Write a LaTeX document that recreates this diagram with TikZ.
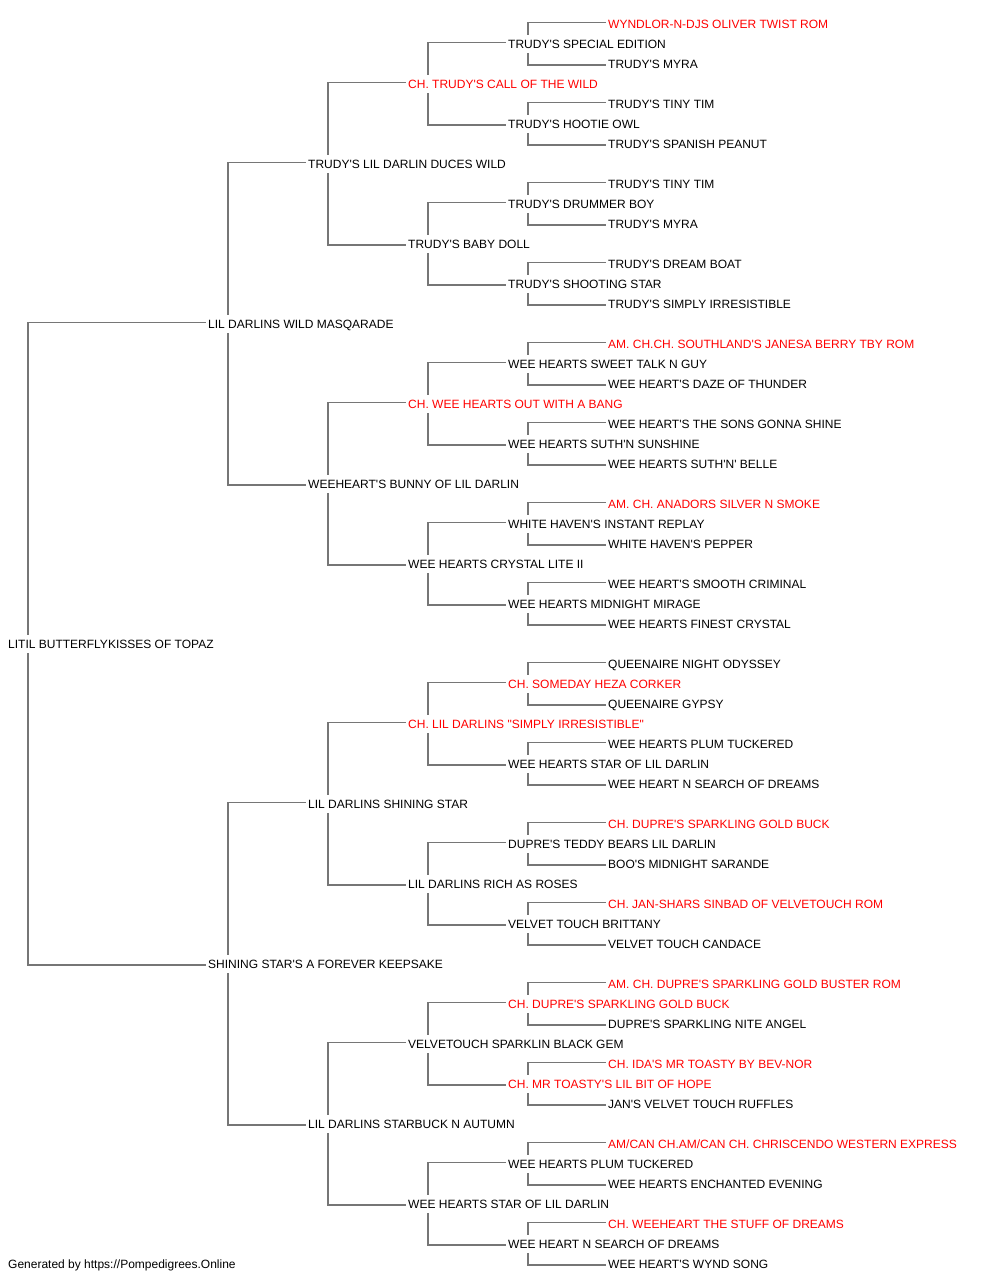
\documentclass[tikz,border=0pt]{standalone}
\usepackage{fontspec}
\newfontfamily\dogfont{Liberation Sans}
\usetikzlibrary{backgrounds}
\definecolor{linegray}{RGB}{118,118,118}
\definecolor{namered}{RGB}{255,0,0}
\tikzset{
  dog/.style={anchor=west, fill=white, inner xsep=2pt, inner ysep=2pt,
    text height=11pt, text depth=2.5pt, font=\dogfont\fontsize{12}{14}\selectfont, text=black},
  champ/.style={dog, text=namered},
  conn/.style={draw=linegray, line width=1.5pt},
}
\newcommand{\famlink}[3]{\draw[conn] ([yshift=1.5pt]#2.west) -| ([xshift=22pt]#1.west) |- ([yshift=-1pt]#3.west);}
\begin{document}
\begin{tikzpicture}[x=1pt,y=-1pt]
\useasboundingbox (0,0) rectangle (1000,1280);
% generation 0
\node[dog] (r) at (6,643.8) {LITIL BUTTERFLYKISSES OF TOPAZ};
% generation 1
\node[dog] (a0) at (206,323.8) {LIL DARLINS WILD MASQARADE};
\node[dog] (a1) at (206,963.8) {SHINING STAR'S A FOREVER KEEPSAKE};
% generation 2
\node[dog] (b0) at (306,163.8) {TRUDY'S LIL DARLIN DUCES WILD};
\node[dog] (b1) at (306,483.8) {WEEHEART'S BUNNY OF LIL DARLIN};
\node[dog] (b2) at (306,803.8) {LIL DARLINS SHINING STAR};
\node[dog] (b3) at (306,1123.8) {LIL DARLINS STARBUCK N AUTUMN};
% generation 3
\node[champ] (c0) at (406,83.8) {CH. TRUDY'S CALL OF THE WILD};
\node[dog] (c1) at (406,243.8) {TRUDY'S BABY DOLL};
\node[champ] (c2) at (406,403.8) {CH. WEE HEARTS OUT WITH A BANG};
\node[dog] (c3) at (406,563.8) {WEE HEARTS CRYSTAL LITE II};
\node[champ] (c4) at (406,723.8) {CH. LIL DARLINS "SIMPLY IRRESISTIBLE"};
\node[dog] (c5) at (406,883.8) {LIL DARLINS RICH AS ROSES};
\node[dog] (c6) at (406,1043.8) {VELVETOUCH SPARKLIN BLACK GEM};
\node[dog] (c7) at (406,1203.8) {WEE HEARTS STAR OF LIL DARLIN};
% generation 4
\node[dog] (d0) at (506,43.8) {TRUDY'S SPECIAL EDITION};
\node[dog] (d1) at (506,123.8) {TRUDY'S HOOTIE OWL};
\node[dog] (d2) at (506,203.8) {TRUDY'S DRUMMER BOY};
\node[dog] (d3) at (506,283.8) {TRUDY'S SHOOTING STAR};
\node[dog] (d4) at (506,363.8) {WEE HEARTS SWEET TALK N GUY};
\node[dog] (d5) at (506,443.8) {WEE HEARTS SUTH'N SUNSHINE};
\node[dog] (d6) at (506,523.8) {WHITE HAVEN'S INSTANT REPLAY};
\node[dog] (d7) at (506,603.8) {WEE HEARTS MIDNIGHT MIRAGE};
\node[champ] (d8) at (506,683.8) {CH. SOMEDAY HEZA CORKER};
\node[dog] (d9) at (506,763.8) {WEE HEARTS STAR OF LIL DARLIN};
\node[dog] (d10) at (506,843.8) {DUPRE'S TEDDY BEARS LIL DARLIN};
\node[dog] (d11) at (506,923.8) {VELVET TOUCH BRITTANY};
\node[champ] (d12) at (506,1003.8) {CH. DUPRE'S SPARKLING GOLD BUCK};
\node[champ] (d13) at (506,1083.8) {CH. MR TOASTY'S LIL BIT OF HOPE};
\node[dog] (d14) at (506,1163.8) {WEE HEARTS PLUM TUCKERED};
\node[dog] (d15) at (506,1243.8) {WEE HEART N SEARCH OF DREAMS};
% generation 5
\node[champ] (e0) at (606,23.8) {WYNDLOR-N-DJS OLIVER TWIST ROM};
\node[dog] (e1) at (606,63.8) {TRUDY'S MYRA};
\node[dog] (e2) at (606,103.8) {TRUDY'S TINY TIM};
\node[dog] (e3) at (606,143.8) {TRUDY'S SPANISH PEANUT};
\node[dog] (e4) at (606,183.8) {TRUDY'S TINY TIM};
\node[dog] (e5) at (606,223.8) {TRUDY'S MYRA};
\node[dog] (e6) at (606,263.8) {TRUDY'S DREAM BOAT};
\node[dog] (e7) at (606,303.8) {TRUDY'S SIMPLY IRRESISTIBLE};
\node[champ] (e8) at (606,343.8) {AM. CH.CH. SOUTHLAND'S JANESA BERRY TBY ROM};
\node[dog] (e9) at (606,383.8) {WEE HEART'S DAZE OF THUNDER};
\node[dog] (e10) at (606,423.8) {WEE HEART'S THE SONS GONNA SHINE};
\node[dog] (e11) at (606,463.8) {WEE HEARTS SUTH'N' BELLE};
\node[champ] (e12) at (606,503.8) {AM. CH. ANADORS SILVER N SMOKE};
\node[dog] (e13) at (606,543.8) {WHITE HAVEN'S PEPPER};
\node[dog] (e14) at (606,583.8) {WEE HEART'S SMOOTH CRIMINAL};
\node[dog] (e15) at (606,623.8) {WEE HEARTS FINEST CRYSTAL};
\node[dog] (e16) at (606,663.8) {QUEENAIRE NIGHT ODYSSEY};
\node[dog] (e17) at (606,703.8) {QUEENAIRE GYPSY};
\node[dog] (e18) at (606,743.8) {WEE HEARTS PLUM TUCKERED};
\node[dog] (e19) at (606,783.8) {WEE HEART N SEARCH OF DREAMS};
\node[champ] (e20) at (606,823.8) {CH. DUPRE'S SPARKLING GOLD BUCK};
\node[dog] (e21) at (606,863.8) {BOO'S MIDNIGHT SARANDE};
\node[champ] (e22) at (606,903.8) {CH. JAN-SHARS SINBAD OF VELVETOUCH ROM};
\node[dog] (e23) at (606,943.8) {VELVET TOUCH CANDACE};
\node[champ] (e24) at (606,983.8) {AM. CH. DUPRE'S SPARKLING GOLD BUSTER ROM};
\node[dog] (e25) at (606,1023.8) {DUPRE'S SPARKLING NITE ANGEL};
\node[champ] (e26) at (606,1063.8) {CH. IDA'S MR TOASTY BY BEV-NOR};
\node[dog] (e27) at (606,1103.8) {JAN'S VELVET TOUCH RUFFLES};
\node[champ] (e28) at (606,1143.8) {AM/CAN CH.AM/CAN CH. CHRISCENDO WESTERN EXPRESS};
\node[dog] (e29) at (606,1183.8) {WEE HEARTS ENCHANTED EVENING};
\node[champ] (e30) at (606,1223.8) {CH. WEEHEART THE STUFF OF DREAMS};
\node[dog] (e31) at (606,1263.8) {WEE HEART'S WYND SONG};
% footer
\node[dog] (foot) at (6,1263.8) {Generated by https://Pompedigrees.Online};
% connectors
\begin{pgfonlayer}{background}
\famlink{r}{a0}{a1}
\famlink{a0}{b0}{b1}
\famlink{a1}{b2}{b3}
\famlink{b0}{c0}{c1}
\famlink{b1}{c2}{c3}
\famlink{b2}{c4}{c5}
\famlink{b3}{c6}{c7}
\famlink{c0}{d0}{d1}
\famlink{c1}{d2}{d3}
\famlink{c2}{d4}{d5}
\famlink{c3}{d6}{d7}
\famlink{c4}{d8}{d9}
\famlink{c5}{d10}{d11}
\famlink{c6}{d12}{d13}
\famlink{c7}{d14}{d15}
\famlink{d0}{e0}{e1}
\famlink{d1}{e2}{e3}
\famlink{d2}{e4}{e5}
\famlink{d3}{e6}{e7}
\famlink{d4}{e8}{e9}
\famlink{d5}{e10}{e11}
\famlink{d6}{e12}{e13}
\famlink{d7}{e14}{e15}
\famlink{d8}{e16}{e17}
\famlink{d9}{e18}{e19}
\famlink{d10}{e20}{e21}
\famlink{d11}{e22}{e23}
\famlink{d12}{e24}{e25}
\famlink{d13}{e26}{e27}
\famlink{d14}{e28}{e29}
\famlink{d15}{e30}{e31}
\end{pgfonlayer}
\end{tikzpicture}
\end{document}
